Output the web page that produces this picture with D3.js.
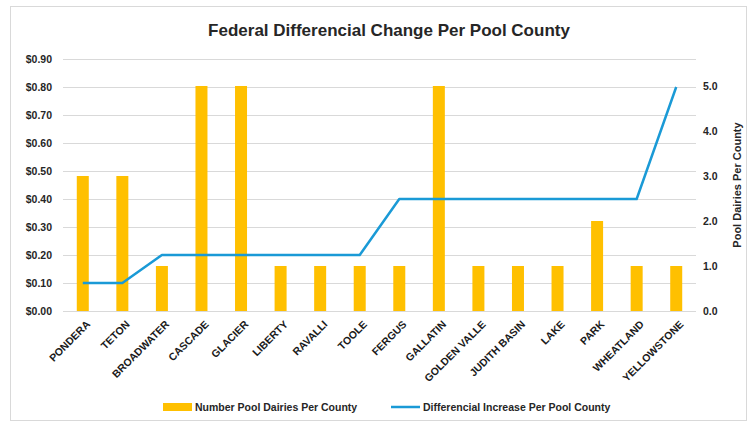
<!DOCTYPE html>
<html>
<head>
<meta charset="utf-8">
<script src="https://cdn.jsdelivr.net/npm/d3@7"></script>
<style>
  body { margin: 0; background: #fff; }
  text { font-family: "Liberation Sans", Arial, sans-serif; }
</style>
</head>
<body>
<script>
"use strict";
(function(){
    // data
    const counties = ["PONDERA", "TETON", "BROADWATER", "CASCADE", "GLACIER", "LIBERTY", "RAVALLI", "TOOLE",
        "FERGUS", "GALLATIN", "GOLDEN VALLE", "JUDITH BASIN", "LAKE", "PARK", "WHEATLAND", "YELLOWSTONE"]
    const dairies = [3, 3, 1, 5, 5, 1, 1, 1, 1, 5, 1, 1, 1, 2, 1, 1]
    const differencial = [0.10, 0.10, 0.20, 0.20, 0.20, 0.20, 0.20, 0.20, 0.40, 0.40, 0.40, 0.40, 0.40, 0.40, 0.40, 0.80]
    const leftTicks = [0, 0.1, 0.2, 0.3, 0.4, 0.5, 0.6, 0.7, 0.8, 0.9]
    const rightTicks = [0, 1, 2, 3, 4, 5]

    const measurements = {
        width: 750,
        height: 425,
        left: 63,
        right: 696,
        top: 59,
        bottom: 311
    }

    const svg = d3.select("body").append("svg")
        .attr("width", measurements.width)
        .attr("height", measurements.height)

    // chart border
    svg.append("rect")
        .attr("x", 10.5).attr("y", 6.5)
        .attr("width", 736).attr("height", 414)
        .attr("fill", "#fff")
        .attr("stroke", "#d9d9d9")

    svg.append("text")
        .attr("x", 389).attr("y", 36)
        .attr("text-anchor", "middle")
        .attr("font-family", "'Liberation Sans Narrow', 'Liberation Sans', sans-serif")
        .attr("font-size", 17)
        .attr("font-weight", "bold")
        .attr("fill", "#262626")
        .text("Federal Differencial Change Per Pool County")

    const scaleX = d3.scaleBand()
        .domain(counties)
        .range([measurements.left, measurements.right])

    const scaleL = d3.scaleLinear()
        .domain([0, 0.9])
        .range([measurements.bottom, measurements.top])

    const scaleR = d3.scaleLinear()
        .domain([0, 5.6])
        .range([measurements.bottom, measurements.top])

    // gridlines
    svg.append("g").selectAll("line")
        .data(leftTicks)
        .enter().append("line")
        .attr("x1", measurements.left).attr("x2", measurements.right)
        .attr("y1", d => Math.round(scaleL(d)) + 0.5)
        .attr("y2", d => Math.round(scaleL(d)) + 0.5)
        .attr("stroke", "#d9d9d9")
        .attr("stroke-width", 1)

    // left axis
    const yAxisL = d3.axisLeft(scaleL)
        .tickValues(leftTicks)
        .tickSize(0)
        .tickPadding(11)
        .tickFormat(d => "$" + d.toFixed(2))
    const gL = svg.append("g")
        .attr("transform", `translate(${measurements.left},0)`)
        .call(yAxisL)
    gL.select(".domain").remove()
    gL.selectAll("text")
        .attr("font-size", 10.5).attr("font-weight", "bold").attr("fill", "#262626")
        .attr("font-family", "'Liberation Sans', Arial, sans-serif")

    // right axis
    const yAxisR = d3.axisRight(scaleR)
        .tickValues(rightTicks)
        .tickSize(0)
        .tickPadding(7)
        .tickFormat(d3.format(".1f"))
    const gR = svg.append("g")
        .attr("transform", `translate(${measurements.right},0)`)
        .call(yAxisR)
    gR.select(".domain").remove()
    gR.selectAll("text")
        .attr("font-size", 10.5).attr("font-weight", "bold").attr("fill", "#262626")
        .attr("font-family", "'Liberation Sans', Arial, sans-serif")

    svg.append("text")
        .attr("transform", "translate(741,185) rotate(-90)")
        .attr("text-anchor", "middle")
        .attr("font-size", 11)
        .attr("font-weight", "bold")
        .attr("fill", "#262626")
        .text("Pool Dairies Per County")

    // bars (right axis)
    const barW = 12
    svg.append("g").selectAll("rect")
        .data(counties)
        .enter().append("rect")
        .attr("x", d => scaleX(d) + scaleX.bandwidth() / 2 - barW / 2)
        .attr("y", (d, i) => scaleR(dairies[i]))
        .attr("width", barW)
        .attr("height", (d, i) => measurements.bottom - scaleR(dairies[i]))
        .attr("fill", "#FFC000")

    // line (left axis)
    const line = d3.line()
        .x((d, i) => scaleX(counties[i]) + scaleX.bandwidth() / 2)
        .y(d => scaleL(d))
    svg.append("path")
        .datum(differencial)
        .attr("d", line)
        .attr("fill", "none")
        .attr("stroke", "#1A9AD6")
        .attr("stroke-width", 2.5)
        .attr("stroke-linejoin", "round")

    // x labels
    const xAxis = d3.axisBottom(scaleX).tickSize(0).tickPadding(0)
    const gX = svg.append("g")
        .attr("transform", `translate(0,${measurements.bottom})`)
        .call(xAxis)
    gX.select(".domain").remove()
    gX.selectAll("text")
        .attr("font-size", 10.5).attr("font-weight", "bold").attr("fill", "#1a1a1a")
        .attr("font-family", "'Liberation Sans', Arial, sans-serif")
        .attr("text-anchor", "end")
        .attr("dy", 0)
        .attr("transform", "translate(8,14) rotate(-45)")

    // legend
    const legend = svg.append("g")
    legend.append("rect")
        .attr("x", 163).attr("y", 403)
        .attr("width", 29).attr("height", 8)
        .attr("fill", "#FFC000")
    legend.append("text")
        .attr("x", 195).attr("y", 411)
        .attr("font-size", 10.5).attr("font-weight", "bold").attr("fill", "#262626")
        .text("Number Pool Dairies Per County")
    legend.append("line")
        .attr("x1", 391).attr("x2", 420)
        .attr("y1", 407).attr("y2", 407)
        .attr("stroke", "#1A9AD6").attr("stroke-width", 2.5)
    legend.append("text")
        .attr("x", 423).attr("y", 411)
        .attr("font-size", 10.5).attr("font-weight", "bold").attr("fill", "#262626")
        .text("Differencial Increase Per Pool County")
})()
</script>
</body>
</html>
